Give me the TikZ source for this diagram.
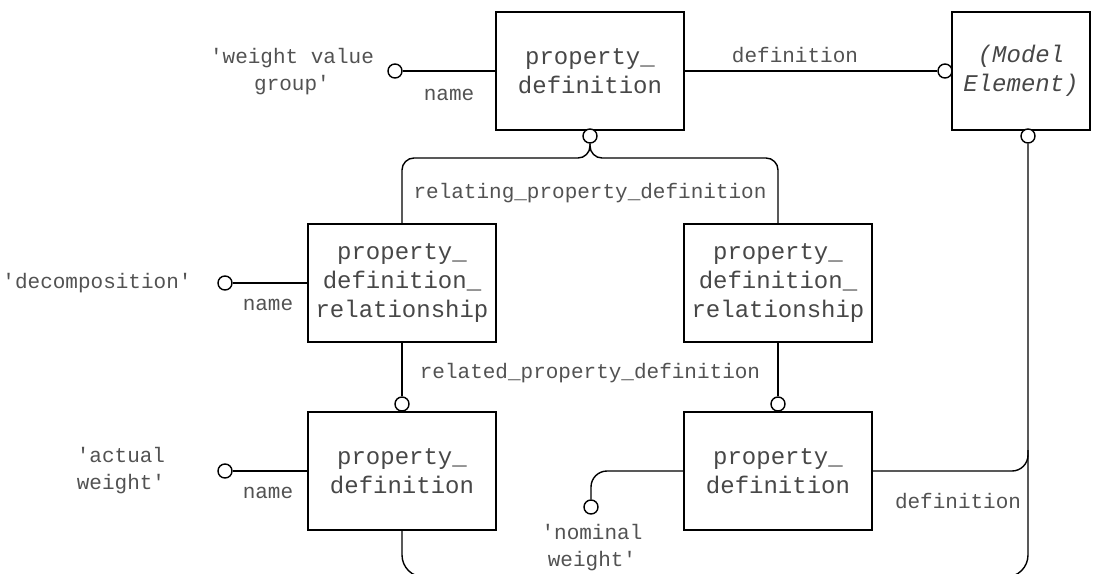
\documentclass[tikz,border=0pt]{standalone}
\usepackage{fontspec}
\setmonofont{Liberation Mono}
\begin{document}
\begin{tikzpicture}[x=1pt,y=-1pt,
  line width=1.4pt,
  box/.style={draw, line width=1.4pt, minimum width=188pt, minimum height=118pt, align=center,
    inner sep=0pt, font=\ttfamily\fontsize{24}{29}\selectfont, text=black!72},
  lbl/.style={font=\ttfamily\fontsize{21}{27}\selectfont, text=black!68, align=center, inner sep=0pt},
  ring/.style={circle, draw, line width=1.4pt, fill=white, minimum size=14pt, inner sep=0pt},
]
\useasboundingbox (0,0) rectangle (1095,573);

% boxes
\node[box] (PD1) at (590,71) {property\_\\definition};
\node[box, minimum width=138pt] (ME) at (1021,71) {\itshape (Model\\\itshape Element)};
\node[box] (PDR1) at (402,283) {property\_\\definition\_\\relationship};
\node[box] (PDR2) at (778,283) {property\_\\definition\_\\relationship};
\node[box] (PD2) at (402,471) {property\_\\definition};
\node[box] (PD3) at (778,471) {property\_\\definition};

% rings
\node[ring] (rWV) at (395,71) {};
\node[ring] (rME1) at (945,71) {};
\node[ring] (rPD1) at (590,136) {};
\node[ring] (rME2) at (1028,136) {};
\node[ring] (rDC) at (225,283) {};
\node[ring] (rPD2) at (402,404) {};
\node[ring] (rPD3) at (778,404) {};
\node[ring] (rAW) at (225,471) {};
\node[ring] (rNW) at (591,507) {};

% labels
\node[lbl] (tWV) at (292,72) {'weight value\\group'};
\node[lbl] (n1) at (449,95) {name};
\node[lbl] (d1) at (795,55) {definition};
\node[lbl] (rel1) at (590,193) {relating\_property\_definition};
\node[lbl] (tDC) at (97,283) {'decomposition'};
\node[lbl] (n2) at (268,305) {name};
\node[lbl] (rel2) at (590,373) {related\_property\_definition};
\node[lbl] (tAW) at (121,471) {'actual\\weight'};
\node[lbl] (n3) at (268,493) {name};
\node[lbl] (tNW) at (592,548) {'nominal\\weight'};
\node[lbl] (d2) at (958,501) {definition};

% connectors
\draw (rWV) -- (PD1.west);
\draw (PD1.east) -- (rME1);
\draw[rounded corners=12pt] (rPD1.south) -- (590,158) -- (402,158) -- (PDR1.north);
\draw[rounded corners=12pt] (rPD1.south) -- (590,158) -- (778,158) -- (PDR2.north);
\draw (PDR1.south) -- (rPD2.north);
\draw (PDR2.south) -- (rPD3.north);
\draw (rDC) -- (PDR1.west);
\draw (rAW) -- (PD2.west);
\draw[rounded corners=16pt] (PD3.west) -- (591,471) -- (rNW.north);
\draw[rounded corners=16pt] (PD3.east) -- (1028,471) -- (1028,450);
\draw[rounded corners=22pt] (PD2.south) -- (402,577) -- (1028,577) -- (rME2.south);
\end{tikzpicture}
\end{document}
